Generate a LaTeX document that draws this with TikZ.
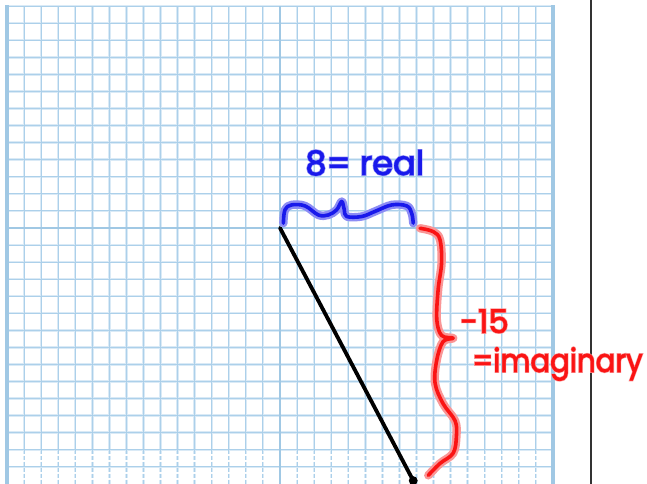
\documentclass[tikz,border=0pt]{standalone}
\usepackage{fontspec}
\usepackage{xcolor}
\usetikzlibrary{calc}
\newfontfamily\handfont[FakeBold=2]{Poppins}
\newfontfamily\halofont[FakeBold=6]{Poppins}
\definecolor{gridblue}{RGB}{172,208,234}
\definecolor{gridglow}{RGB}{218,234,246}
\definecolor{axisblue}{RGB}{160,200,228}
\definecolor{inkblue}{RGB}{25,25,235}
\definecolor{glowblue}{RGB}{140,140,245}
\definecolor{inkred}{RGB}{250,20,20}
\definecolor{glowred}{RGB}{250,150,150}
\tikzset{
  glowline/.style={gridglow,line width=2pt},
  gridline/.style={gridblue,line width=0.8pt},
  axisline/.style={axisblue,line width=2.4pt},
  inkglow/.style={line width=7pt,line cap=round,line join=round},
  ink/.style={line width=3pt,line cap=round,line join=round},
  inktext/.style={inner sep=0pt,anchor=base west}
}
\begin{document}
\begin{tikzpicture}[x=0.5cm,y=0.5cm]
  \useasboundingbox (-16.41,-14.95) rectangle (21.51,13.36);
  \fill[white] (-16.41,-14.95) rectangle (21.51,13.36);
  \begin{scope}
  \clip (-16.41,-14.95) rectangle (21.51,13.36);
  % graph paper
  \foreach \s in {glowline,gridline}{
    \foreach \y in {-14,...,13}
      \draw[\s] (-16,\y) -- (16,\y);
    \foreach \x in {-15,...,15}{
      \draw[\s] (\x,13) -- (\x,-13);
      \draw[\s,dash pattern=on 3.3pt off 1.7pt] (\x,-13) -- (\x,-15);
    }
  }
  \draw[axisline] (-16,0) -- (16,0);
  \draw[axisline] (0,13) -- (0,-15);
  \draw[axisblue,line width=3pt] (-16,13.05) -- (-16,-15);
  \draw[axisblue,line width=3pt] (16,13.05) -- (16,-15);
  % margin line
  \draw[black!80,line width=2.2pt] (18.23,13.5) -- (18.23,-15.2);
  % vector
  \coordinate (O) at (0,0);
  \coordinate (P) at (7.81,-14.81);
  \draw[black,line width=3.2pt,line cap=round] (O) -- (P);
  \fill[black] (P) circle (0.26);
  % real part brace
  \foreach \c/\w in {glowblue/inkglow,inkblue/ink}
    \draw[\c,\w] plot[smooth,tension=0.6] coordinates {(0.2,0.28) (0.29,1.06) (0.68,1.35)
      (1.47,1.29) (2.25,0.76) (2.83,0.76) (3.32,1.06) (3.62,1.55) (3.77,1.06) (3.91,0.67)
      (4.79,0.67) (5.57,0.97) (6.55,1.35) (7.43,1.29) (7.72,0.86) (7.81,0.28)};
  % imaginary part brace
  \foreach \c/\w in {glowred/inkglow,inkred/ink}
    \draw[\c,\w] plot[smooth,tension=0.6] coordinates {(8.21,-0.02) (8.99,-0.22) (9.38,-0.7)
      (9.47,-2.05) (9.27,-3.6) (9.19,-5.36) (9.47,-6.3) (10.15,-6.46) (9.56,-6.66)
      (9.19,-7.73) (9.09,-9.1) (9.56,-10.3) (10.26,-11.3) (10.34,-12.2) (10.15,-13.2)
      (9.38,-13.8) (8.69,-14.5)};
  % labels
  \node[inktext,text=glowblue,font=\halofont\fontsize{28}{28}\selectfont] (real-glow) at (1.47,3.11) {8= real};
  \node[inktext,text=inkblue,font=\handfont\fontsize{28}{28}\selectfont] (real) at (1.47,3.11) {8= real};
  \node[inktext,text=glowred,font=\halofont\fontsize{27}{27}\selectfont] (im-glow) at (10.55,-6.15) {-15};
  \node[inktext,text=inkred,font=\handfont\fontsize{27}{27}\selectfont] (im) at (10.55,-6.15) {-15};
  \node[inktext,text=glowred,font=\halofont\fontsize{27}{27}\selectfont] (imag-glow) at (11.25,-8.44) {\scalebox{0.9}[1]{=imaginary}};
  \node[inktext,text=inkred,font=\handfont\fontsize{27}{27}\selectfont] (imag) at (11.25,-8.44) {\scalebox{0.9}[1]{=imaginary}};
  \end{scope}
\end{tikzpicture}
\end{document}
